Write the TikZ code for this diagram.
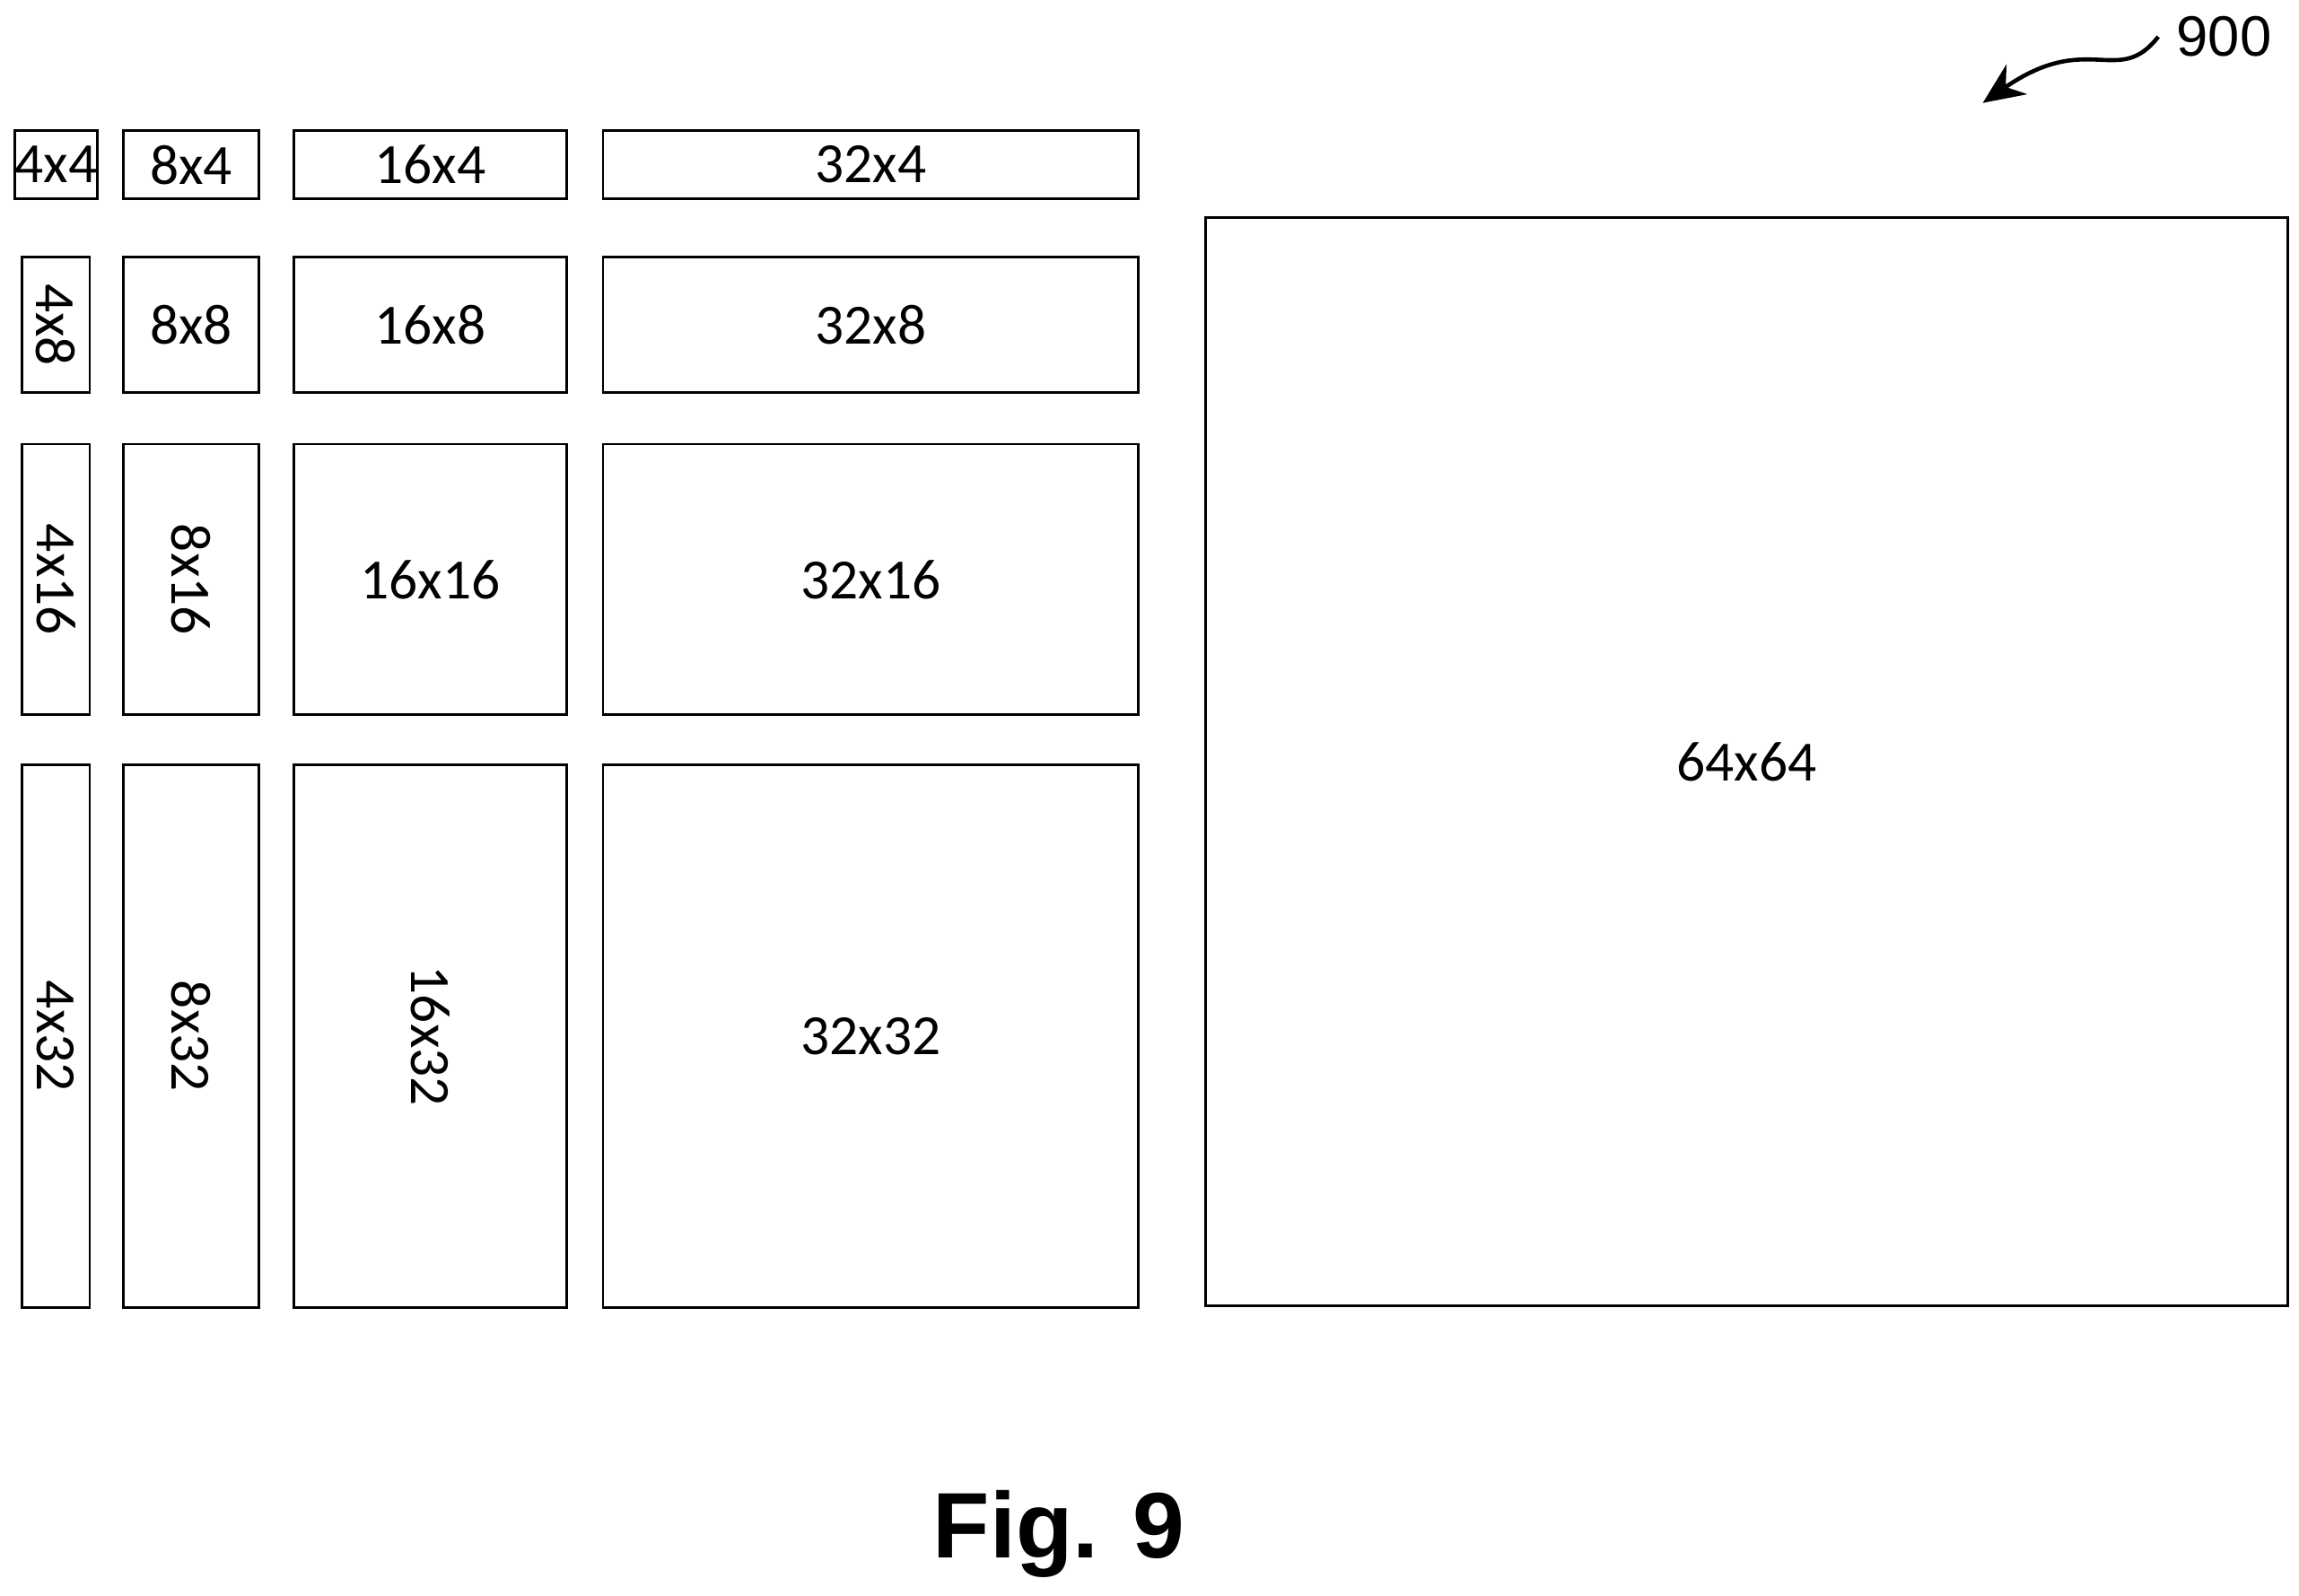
\documentclass[tikz,border=0pt]{standalone}
\usepackage{fontspec}
\setmainfont{Carlito}
\newfontfamily\figfont{Liberation Sans}
\usetikzlibrary{arrows.meta}

\begin{document}
\begin{tikzpicture}[x=0.01cm,y=-0.01cm,
  blk/.style={draw=black,line width=0.5pt,inner sep=0pt,font=\fontsize{11}{12}\selectfont},
  vert/.style={rotate=-90}]

%% bounding box
\useasboundingbox (0,0) rectangle (1563,1085);

%% column x ranges and row y ranges
\foreach \ca/\cb/\cn in {15/61/4,84/176/8,200/385/16,410/774/32}{
  \foreach \ra/\rb/\rn in {89/135/4,175/267/8,302/486/16,520/889/32}{
    \pgfmathsetmacro{\w}{(\cb-\ca)*0.01}
    \pgfmathsetmacro{\h}{(\rb-\ra)*0.01}
    \pgfmathtruncatemacro{\isvert}{\rn>\cn ? 1 : 0}
    \ifnum\isvert=1
      \node[blk,minimum width=\w cm,minimum height=\h cm] (b\cn x\rn) at ({(\ca+\cb)/2},{(\ra+\rb)/2}) {};
      \node[vert,font=\fontsize{11}{12}\selectfont] at (b\cn x\rn.center) {\cn x\rn};
    \else
      \node[blk,minimum width=\w cm,minimum height=\h cm] (b\cn x\rn) at ({(\ca+\cb)/2},{(\ra+\rb)/2}) {\cn x\rn};
    \fi
  }
}
\node[font=\fontsize{7}{8}\selectfont] at (b4x4.center) {};

%% large block
\node[blk,minimum width=7.35cm,minimum height=7.4cm] (b64x64) at (1187.5,518) {64x64};

%% reference numeral
\node[font=\figfont\fontsize{11}{12}\selectfont] (ref) at (1512,25) {900};
\coordinate (tip) at (1348,70);
\draw[line width=0.8pt,-{Stealth[length=8pt,width=7pt]}] (ref.west) .. controls (1440,60) and (1420,20) .. (tip);

%% caption
\node[font=\figfont\bfseries\fontsize{18}{20}\selectfont] (cap) at (720,1043) {Fig. 9};
\end{tikzpicture}
\end{document}
